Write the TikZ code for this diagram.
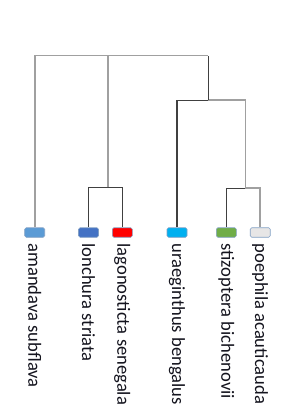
\documentclass[tikz,border=0pt]{standalone}
\usepackage{fontspec}
\setmainfont{Carlito}
\usepackage{tikz}
\usetikzlibrary{positioning}
\definecolor{amandavac}{RGB}{91,155,213}
\definecolor{lonchurac}{RGB}{68,114,196}
\definecolor{lagonoc}{RGB}{255,0,0}
\definecolor{uraegc}{RGB}{0,176,240}
\definecolor{stizoc}{RGB}{112,173,71}
\definecolor{poephc}{RGB}{231,230,230}
\definecolor{leafedge}{RGB}{130,160,196}
\definecolor{lgray}{RGB}{160,160,160}
\definecolor{dgray}{RGB}{64,64,64}
\definecolor{txt}{RGB}{20,20,30}

\begin{document}
\begin{tikzpicture}[
  x=1pt, y=-1pt,
  leaf/.style={draw=leafedge, rounded corners=1.5pt, line width=0.6pt,
               minimum width=20pt, minimum height=9.5pt, inner sep=0pt},
  lbl/.style={rotate=-90, anchor=west, inner sep=0pt,
              font=\fontsize{18.6}{22}\selectfont, text=txt},
  gline/.style={draw=lgray, line width=1.6pt},
  dline/.style={draw=dgray, line width=1.1pt}
]
  \useasboundingbox (0,0) rectangle (299,419);

  % leaves
  \node[leaf, fill=amandavac] (amandava) at (34.7,232.5) {};
  \node[leaf, fill=lonchurac] (lonchura) at (88.5,232.5) {};
  \node[leaf, fill=lagonoc] (lagono) at (122.3,232.5) {};
  \node[leaf, fill=uraegc] (uraeg) at (177,232.5) {};
  \node[leaf, fill=stizoc] (stizo) at (226.3,232.5) {};
  \node[leaf, fill=poephc] (poeph) at (260.2,232.5) {};

  \node[lbl] (amandava-t) at ([yshift=-5.7pt]amandava.south) {amandava subflava};
  \node[lbl] (lonchura-t) at ([yshift=-5.7pt]lonchura.south) {lonchura striata};
  \node[lbl] (lagono-t) at ([yshift=-5.7pt]lagono.south) {lagonosticta senegala};
  \node[lbl] (uraeg-t) at ([yshift=-5.7pt]uraeg.south) {uraeginthus bengalus};
  \node[lbl] (stizo-t) at ([yshift=-5.7pt]stizo.south) {stizoptera bichenovii};
  \node[lbl] (poeph-t) at ([yshift=-5.7pt]poeph.south) {poephila acauticauda};

  % joins
  \coordinate (root) at (107.7,55.7);
  \coordinate (jlon) at (107.7,187.3);
  \coordinate (jright) at (208.3,100.3);
  \coordinate (jsp) at (245.3,188.3);

  \draw[dline] (lonchura.north) |- (jlon);
  \draw[dline] (lagono.north) |- (jlon);
  \draw[dline] (uraeg.north) |- (jright);
  \draw[dline] (stizo.north) |- (jsp);
  \draw[gline] (poeph.north) |- (jsp);
  \draw[gline] (jsp) |- (jright);
  \draw[dline] (jright) -- (jright |- root);
  \draw[gline] (jlon) -- (root);
  \draw[gline] (amandava.north) |- (root) -- (root -| jright);
\end{tikzpicture}
\end{document}
